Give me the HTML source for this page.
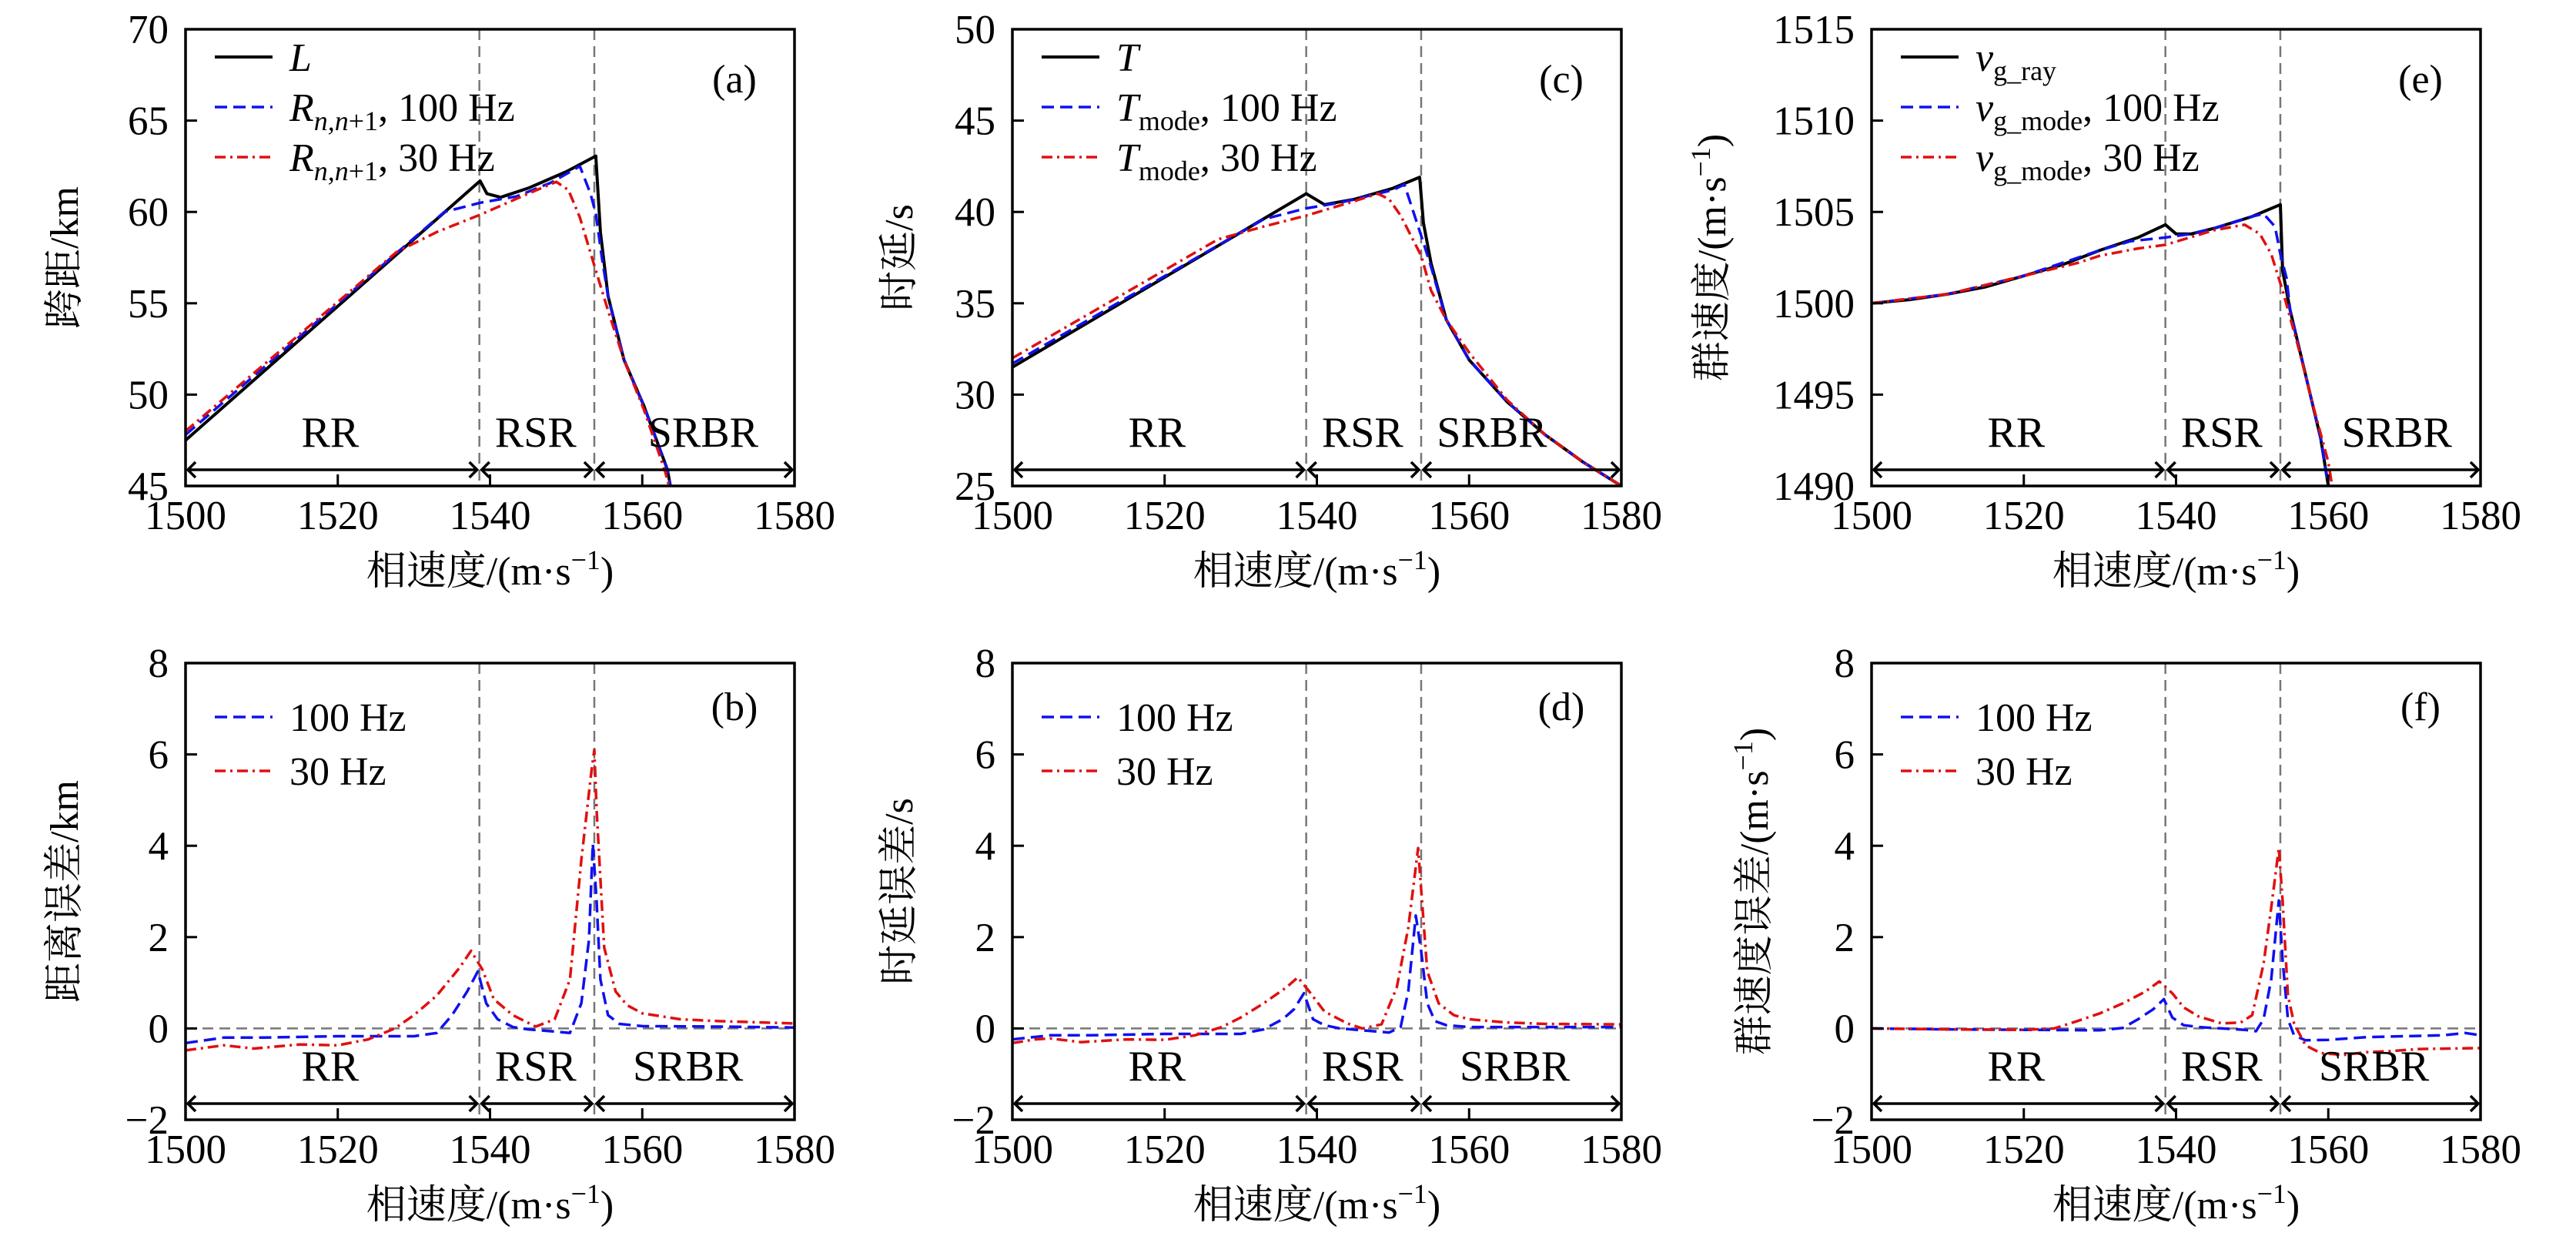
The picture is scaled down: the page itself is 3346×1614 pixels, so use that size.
<!DOCTYPE html>
<html><head><meta charset="utf-8">
<style>
html,body{margin:0;padding:0;background:#fff;}
svg{display:block;}
text{font-family:"Liberation Serif","Noto Serif CJK SC",serif;fill:#000;}
</style></head>
<body>
<svg id="fig" width="3346" height="1614" viewBox="0 0 3346 1614" xmlns="http://www.w3.org/2000/svg"></svg>
<script>
// ---------- data ----------
// Panel (a) range, km
const aLx=[1500,1538.7,1539.6,1541.4,1545,1550,1553.9,1554.5,1555.5,1557.6,1560.2,1563.3,1563.7];
const aLy=[47.5,61.7,61.0,60.8,61.3,62.2,63.06,58.9,55.4,51.9,49.4,45.9,45];
const aBx=[1500,1534,1538.7,1543.5,1548,1551.8,1553.2,1553.9,1554.7,1555.5,1557.6,1560.2,1563.3,1563.7];
const aBy=[47.8,60.0,60.5,60.85,61.6,62.5,61.0,59.9,57.5,55.4,51.9,49.4,45.9,45];
const aRx=[1500,1527.7,1533,1539,1545,1548.7,1550.3,1551.8,1553.9,1555.5,1557.6,1560.2,1563,1563.5];
const aRy=[48.0,57.8,58.9,59.9,61.0,61.65,61.2,59.7,56.8,54.6,51.9,49.2,45.8,45];
// Panel (c) time, s
const cLx=[1500,1538.6,1541,1545,1550,1553.5,1554,1555,1557,1560,1565,1570,1575,1580];
const cLy=[31.5,41.0,40.4,40.7,41.3,41.9,39.4,37.2,34.1,31.9,29.6,27.8,26.3,25];
const cBx=[1500,1533,1538.6,1543,1550,1551.5,1553.7,1555,1557,1560,1565,1570,1575,1580];
const cBy=[31.7,39.6,40.2,40.5,41.2,41.5,38.7,37.0,34.1,31.9,29.6,27.8,26.3,25];
const cRx=[1500,1527,1533,1538.6,1545,1548,1549.5,1551,1553.7,1555,1557,1560,1565,1570,1575,1580];
const cRy=[32.0,38.5,39.2,39.8,40.6,41.0,40.7,39.8,37.6,35.7,34.1,32.3,29.7,27.8,26.3,25];
// Panel (e) group speed, m/s
const eLx=[1500,1505,1510,1515,1520,1525,1530,1535,1538.6,1540,1542,1545,1550,1553.7,1554,1555,1557,1559,1560];
const eLy=[1500,1500.2,1500.5,1500.9,1501.5,1502.1,1502.9,1503.6,1504.3,1503.8,1503.8,1504.1,1504.75,1505.4,1501.8,1499.6,1496.1,1492.6,1490];
const eBx=[1500,1510,1520,1530,1534,1538.6,1542,1545,1550,1551.5,1553,1553.7,1554.5,1555,1557,1559,1560];
const eBy=[1500,1500.5,1501.5,1502.9,1503.4,1503.6,1503.8,1504.1,1504.75,1504.9,1504.2,1502.7,1501.4,1499.6,1496.1,1492.6,1490];
const eRx=[1500,1510,1520,1527,1530,1535,1538.6,1545,1549,1551,1552.5,1554,1556,1558,1560,1560.5];
const eRy=[1500,1500.5,1501.5,1502.2,1502.6,1503.0,1503.2,1504.0,1504.3,1503.8,1502.7,1500.7,1497.7,1494.4,1491.3,1490];
// Panel (b) range error, km
const bBx=[1500,1505,1510,1520,1525,1530,1533,1535,1537,1538.4,1539.5,1541,1543,1545,1548,1550.5,1552,1553,1553.5,1554,1554.5,1555.5,1557,1560,1570,1580];
const bBy=[-0.32,-0.2,-0.2,-0.17,-0.17,-0.17,-0.1,0.29,0.81,1.25,0.55,0.2,0.03,-0.02,-0.06,-0.1,0.55,1.94,4.05,2.8,1.07,0.29,0.1,0.05,0.04,0.02];
const bRx=[1500,1505,1509,1515,1520,1524,1527.5,1530,1533,1536,1537.5,1539,1540.5,1543,1546,1548.5,1550.5,1552,1553.3,1553.7,1554,1555,1556.5,1558,1560,1565,1570,1580];
const bRy=[-0.48,-0.37,-0.44,-0.35,-0.37,-0.24,0,0.29,0.72,1.33,1.7,1.29,0.64,0.29,0.04,0.2,1.07,3.69,5.6,6.1,4.8,1.77,0.81,0.51,0.33,0.2,0.16,0.11];
// Panel (d) time error, s
const dBx=[1500,1505,1510,1520,1530,1533,1535.5,1537,1538.3,1539.5,1541,1543,1546,1549.5,1551,1552,1553,1553.7,1554.5,1555.5,1557,1560,1580];
const dBy=[-0.24,-0.15,-0.15,-0.12,-0.12,-0.02,0.2,0.42,0.77,0.2,0.07,0,-0.04,-0.09,0.03,0.81,2.47,1.69,0.55,0.16,0.07,0.03,0.03];
const dRx=[1500,1503,1505,1509,1515,1520,1524,1527.5,1530,1533,1536,1537.5,1539,1541,1544,1546,1548.5,1550.5,1552,1553.3,1554,1554.5,1556,1558,1560,1565,1570,1580];
const dRy=[-0.32,-0.24,-0.22,-0.3,-0.24,-0.25,-0.15,0.03,0.24,0.55,0.9,1.12,0.81,0.37,0.11,0,0.09,0.9,2.2,3.95,2.38,1.25,0.55,0.29,0.2,0.13,0.1,0.09];
// Panel (f) group speed error, m/s
const fBx=[1500,1510,1520,1530,1533,1535,1537,1538.4,1539.5,1541,1543,1546,1549,1550.5,1551.5,1552.5,1553.5,1554,1554.7,1555.5,1557,1560,1565,1570,1575,1578,1580];
const fBy=[0,-0.02,-0.03,-0.04,0.01,0.2,0.42,0.64,0.24,0.07,0.03,0,-0.03,-0.06,0.2,1.07,2.8,1.5,0.2,-0.15,-0.26,-0.25,-0.19,-0.17,-0.15,-0.1,-0.15];
const fRx=[1500,1510,1520,1524,1527,1530,1533,1536,1537.8,1539.5,1541,1543,1546,1548.5,1550,1551.5,1552.5,1553.5,1554,1554.7,1555.5,1557,1559,1562,1565,1568,1572,1580];
const fRy=[0,-0.02,-0.03,0,0.16,0.33,0.55,0.81,1.03,0.77,0.46,0.26,0.11,0.13,0.29,1.42,2.64,3.95,2.8,0.72,0.11,-0.37,-0.54,-0.58,-0.52,-0.5,-0.45,-0.43];

const xTicks=[1500,1520,1540,1560,1580];
const boundaries=[1538.6,1553.7];
const regionNames=["RR","RSR","SRBR"];

// ---------- drawing ----------
const NS="http://www.w3.org/2000/svg";
const svg=document.getElementById('fig');
function mk(tag,attrs,parent){const e=document.createElementNS(NS,tag);for(const k in attrs)e.setAttribute(k,attrs[k]);(parent||svg).appendChild(e);return e;}

const W=791,H=593;
const cols=[241,1315,2431], rows=[38,861];
const BLUE="#1010ee", RED="#e01010";

function panel(o){
  const L=o.left,T=o.top,R=L+W,B=T+H;
  const g=mk('g',{});
  
  
  const sx=v=>L+(v-1500)/80*W;
  const sy=v=>B-(v-o.ymin)/(o.ymax-o.ymin)*H;
  const cid='clip-'+o.id;
  const cp=mk('clipPath',{id:cid},g);mk('rect',{x:L,y:T,width:W,height:H},cp);
  boundaries.forEach((b,i)=>{const l=mk('line',{x1:sx(b),x2:sx(b),y1:T,y2:B,stroke:'#777','stroke-width':2.5,'stroke-dasharray':'14,8'},g);
    
    });
  if(o.zero){const z=mk('line',{x1:L,x2:R,y1:sy(0),y2:sy(0),stroke:'#777','stroke-width':2.5,'stroke-dasharray':'14,8'},g);
    
    }
  const lg=mk('g',{'clip-path':'url(#'+cid+')'},g);
  o.series.forEach(s=>{
    const d=s.x.map((v,i)=>(i?'L':'M')+sx(v).toFixed(1)+','+sy(s.y[i]).toFixed(1)).join(' ');
    const p=mk('path',{d:d,fill:'none',stroke:s.c,'stroke-width':s.w||3.5,'stroke-linejoin':'round'},lg);
    if(s.dash)p.setAttribute('stroke-dasharray',s.dash);
    
    
  });
  const ay=B-21, edges=[1500].concat(boundaries,[1580]);
  for(let i=0;i<3;i++){
    const x1=sx(edges[i])+3,x2=sx(edges[i+1])-3;
    const ag=mk('g',{stroke:'#000','stroke-width':3.5,fill:'none'},g);
    
    
    mk('line',{x1:x1,x2:x2,y1:ay,y2:ay},ag);
    mk('path',{d:`M${x1+10},${ay-10} L${x1},${ay} L${x1+10},${ay+10} M${x2-10},${ay-10} L${x2},${ay} L${x2-10},${ay+10}`},ag);
    const t=mk('text',{x:sx(o.regX[i]),y:ay-30,'text-anchor':'middle','font-size':56},g);
    t.textContent=regionNames[i];
    
    
  }
  const f=mk('rect',{x:L,y:T,width:W,height:H,fill:'none',stroke:'#000','stroke-width':3.5},g);
  
  
  xTicks.forEach(v=>{mk('line',{x1:sx(v),x2:sx(v),y1:B,y2:B-15,stroke:'#000','stroke-width':3},g);
    const t=mk('text',{x:sx(v),y:B+56,'text-anchor':'middle','font-size':53},g);t.textContent=v;
    
    });
  o.yTicks.forEach(v=>{mk('line',{x1:L,x2:L+15,y1:sy(v),y2:sy(v),stroke:'#000','stroke-width':3},g);
    const t=mk('text',{x:L-22,y:sy(v)+18,'text-anchor':'end','font-size':53},g);t.textContent=v<0?'\u2212'+(-v):v;
    
    });
  const xt=mk('text',{x:L+W/2,y:B+128,'text-anchor':'middle','font-size':52},g);
  xt.innerHTML='相速度/(m·s<tspan dy="-20" font-size="36">−1</tspan><tspan dy="20">)</tspan>';
  
  
  const yt=mk('text',{x:0,y:0,'text-anchor':'middle','font-size':52,transform:`translate(${L-o.ylOff},${T+H/2}) rotate(-90)`},g);
  yt.innerHTML=o.ylabel;
  
  
  const pt=mk('text',{x:R-78,y:T+(o.zero?74:82),'text-anchor':'middle','font-size':52},g);
  pt.textContent='('+o.id+')';
  
  
  const lgd=mk('g',{},g);
  
  
  const ly0=o.zero?T+70:T+36, ldy=o.zero?70:65;
  o.series.forEach((s,i)=>{
    const y=ly0+i*ldy;
    const l=mk('line',{x1:L+38,x2:L+113,y1:y,y2:y,stroke:s.c,'stroke-width':s.w||3.5},lgd);
    if(s.dash)l.setAttribute('stroke-dasharray',s.dash);
    const t=mk('text',{x:L+135,y:y+18,'font-size':52},lgd);
    t.innerHTML=s.label;
    
    
  });
}

const DASH='16,8', DDOT='14,6,3,6';
const sub=(m,s)=>`<tspan font-style="italic">${m}</tspan><tspan dy="12" font-size="36">${s}</tspan><tspan dy="-12">`;
panel({id:'a',left:cols[0],top:rows[0],ymin:45,ymax:70,yTicks:[45,50,55,60,65,70],ylOff:140,regX:[1519,1546,1568],
  ylabel:'跨距/km',
  series:[{x:aLx,y:aLy,c:'#000',w:4,name:'series-L',label:'<tspan font-style="italic">L</tspan>'},
          {x:aBx,y:aBy,c:BLUE,dash:DASH,name:'series-R-100hz',label:sub('R','<tspan font-style="italic">n,n</tspan>+1')+', 100 Hz</tspan>'},
          {x:aRx,y:aRy,c:RED,dash:DDOT,name:'series-R-30hz',label:sub('R','<tspan font-style="italic">n,n</tspan>+1')+', 30 Hz</tspan>'}]});
panel({id:'c',left:cols[1],top:rows[0],ymin:25,ymax:50,yTicks:[25,30,35,40,45,50],ylOff:130,regX:[1519,1546,1563],
  ylabel:'时延/s',
  series:[{x:cLx,y:cLy,c:'#000',w:4,name:'series-T',label:'<tspan font-style="italic">T</tspan>'},
          {x:cBx,y:cBy,c:BLUE,dash:DASH,name:'series-Tmode-100hz',label:sub('T','mode')+', 100 Hz</tspan>'},
          {x:cRx,y:cRy,c:RED,dash:DDOT,name:'series-Tmode-30hz',label:sub('T','mode')+', 30 Hz</tspan>'}]});
panel({id:'e',left:cols[2],top:rows[0],ymin:1490,ymax:1515,yTicks:[1490,1495,1500,1505,1510,1515],ylOff:190,regX:[1519,1546,1569],
  ylabel:'群速度/(m·s<tspan dy="-20" font-size="36">−1</tspan><tspan dy="20">)</tspan>',
  series:[{x:eLx,y:eLy,c:'#000',w:4,name:'series-vg-ray',label:sub('v','g_ray')+'</tspan>'},
          {x:eBx,y:eBy,c:BLUE,dash:DASH,name:'series-vg-mode-100hz',label:sub('v','g_mode')+', 100 Hz</tspan>'},
          {x:eRx,y:eRy,c:RED,dash:DDOT,name:'series-vg-mode-30hz',label:sub('v','g_mode')+', 30 Hz</tspan>'}]});
panel({id:'b',left:cols[0],top:rows[1],ymin:-2,ymax:8,yTicks:[-2,0,2,4,6,8],ylOff:140,regX:[1519,1546,1566],zero:true,
  ylabel:'距离误差/km',
  series:[{x:bBx,y:bBy,c:BLUE,dash:DASH,name:'series-range-err-100hz',label:'100 Hz'},
          {x:bRx,y:bRy,c:RED,dash:DDOT,name:'series-range-err-30hz',label:'30 Hz'}]});
panel({id:'d',left:cols[1],top:rows[1],ymin:-2,ymax:8,yTicks:[-2,0,2,4,6,8],ylOff:130,regX:[1519,1546,1566],zero:true,
  ylabel:'时延误差/s',
  series:[{x:dBx,y:dBy,c:BLUE,dash:DASH,name:'series-time-err-100hz',label:'100 Hz'},
          {x:dRx,y:dRy,c:RED,dash:DDOT,name:'series-time-err-30hz',label:'30 Hz'}]});
panel({id:'f',left:cols[2],top:rows[1],ymin:-2,ymax:8,yTicks:[-2,0,2,4,6,8],ylOff:135,regX:[1519,1546,1566],zero:true,
  ylabel:'群速度误差/(m·s<tspan dy="-20" font-size="36">−1</tspan><tspan dy="20">)</tspan>',
  series:[{x:fBx,y:fBy,c:BLUE,dash:DASH,name:'series-vg-err-100hz',label:'100 Hz'},
          {x:fRx,y:fRy,c:RED,dash:DDOT,name:'series-vg-err-30hz',label:'30 Hz'}]});
</script>
</body></html>
